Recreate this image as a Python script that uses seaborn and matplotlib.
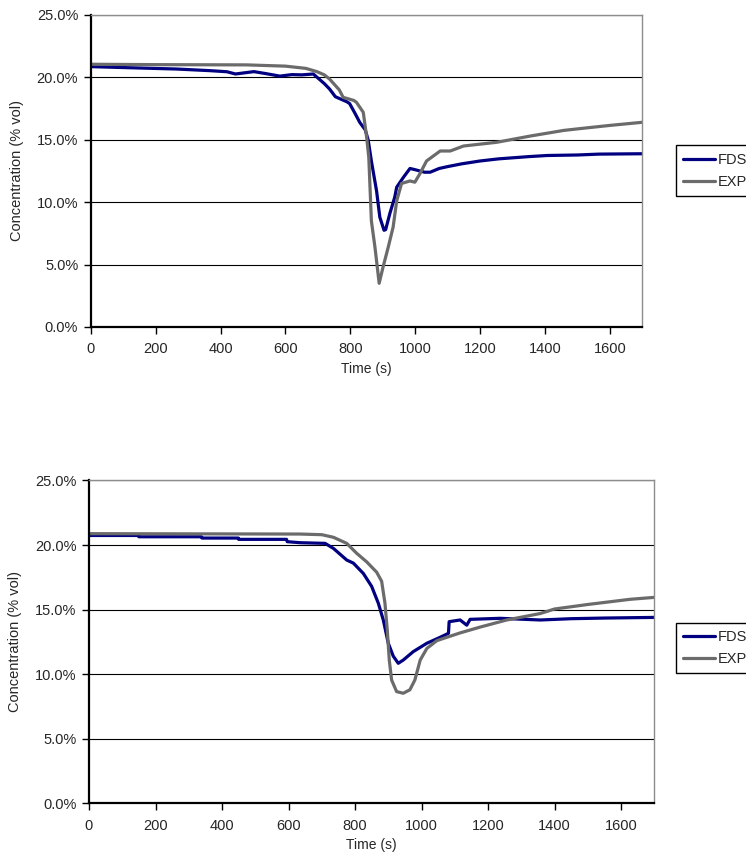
import pandas as pd
import matplotlib
matplotlib.use('Agg')
import matplotlib.pyplot as plt
import seaborn as sns
from matplotlib.ticker import FuncFormatter, MultipleLocator

sns.set_style('white')
plt.rcParams['font.family'] = ['Liberation Sans', 'DejaVu Sans']
plt.rcParams['font.size'] = 10.5

# upper panel
top_fds_t = [0, 80, 150, 263, 366, 420, 446, 470, 503, 540, 583, 620, 651, 686, 720, 736, 754, 767,
             789, 798, 817, 829, 846, 855, 865, 881, 891, 904, 909, 922, 937, 943, 964, 984, 1000,
             1029, 1046, 1074, 1100, 1143, 1200, 1257, 1350, 1407, 1500, 1566, 1700]
top_fds = [20.86, 20.80, 20.75, 20.67, 20.54, 20.45, 20.27, 20.35, 20.46, 20.30, 20.10, 20.22, 20.20,
           20.27, 19.50, 19.07, 18.45, 18.30, 18.05, 17.90, 17.00, 16.40, 15.80, 15.00, 13.30, 10.90,
           8.80, 7.75, 7.80, 9.10, 10.40, 11.20, 12.00, 12.70, 12.60, 12.40, 12.40, 12.70, 12.85,
           13.07, 13.30, 13.47, 13.65, 13.74, 13.78, 13.85, 13.88]
top_exp_t = [0, 200, 480, 600, 663, 697, 720, 736, 766, 778, 811, 819, 840, 850, 857, 860, 865, 876,
             889, 901, 917, 932, 943, 958, 984, 999, 1015, 1035, 1077, 1108, 1149, 1252, 1355, 1458,
             1510, 1600, 1700]
top_exp = [21.05, 21.02, 21.00, 20.90, 20.72, 20.46, 20.20, 19.87, 19.00, 18.40, 18.15, 18.00, 17.20,
           15.30, 13.60, 11.70, 8.50, 6.40, 3.50, 4.80, 6.40, 8.00, 10.10, 11.50, 11.70, 11.60, 12.30,
           13.30, 14.10, 14.10, 14.50, 14.80, 15.30, 15.75, 15.90, 16.15, 16.40]

# lower panel
bot_fds_t = [0, 148, 150, 338, 340, 449, 450, 594, 596, 635, 710, 735, 775, 795, 825, 850, 870, 885,
             900, 915, 930, 945, 975, 1016, 1056, 1081, 1083, 1116, 1136, 1146, 1236, 1357, 1450,
             1550, 1700]
bot_fds = [20.74, 20.74, 20.64, 20.64, 20.54, 20.54, 20.44, 20.44, 20.26, 20.18, 20.13, 19.74, 18.84,
           18.60, 17.80, 16.80, 15.50, 14.20, 12.40, 11.40, 10.85, 11.10, 11.75, 12.40, 12.86, 13.17,
           14.07, 14.20, 13.80, 14.25, 14.33, 14.20, 14.30, 14.35, 14.40]
bot_exp_t = [0, 635, 700, 735, 775, 805, 835, 865, 880, 890, 897, 903, 910, 925, 945, 965, 980, 996,
             1016, 1046, 1076, 1116, 1176, 1256, 1357, 1400, 1500, 1627, 1700]
bot_exp = [20.88, 20.85, 20.80, 20.60, 20.13, 19.36, 18.70, 17.90, 17.20, 15.50, 13.40, 11.10, 9.56,
           8.66, 8.53, 8.80, 9.56, 11.10, 12.00, 12.60, 12.86, 13.20, 13.65, 14.20, 14.70, 15.05,
           15.40, 15.80, 15.95]

palette = {'FDS': '#000080', 'EXP': '#6b6b6b'}


def make_df(fds_t, fds, exp_t, exp):
    df1 = pd.DataFrame({'time': fds_t, 'conc': fds, 'series': 'FDS'})
    df2 = pd.DataFrame({'time': exp_t, 'conc': exp, 'series': 'EXP'})
    return pd.concat([df1, df2], ignore_index=True)


fig = plt.figure(figsize=(7.46, 8.65), dpi=100)
ax_top = fig.add_axes([0.1216, 0.622, 0.7394, 0.3607])
ax_bot = fig.add_axes([0.1193, 0.0711, 0.7578, 0.3735])

panels = [
    (ax_top, make_df(top_fds_t, top_fds, top_exp_t, top_exp), 0.832),
    (ax_bot, make_df(bot_fds_t, bot_fds, bot_exp_t, bot_exp), 0.280),
]

for ax, df, leg_y in panels:
    sns.lineplot(data=df, x='time', y='conc', hue='series', hue_order=['FDS', 'EXP'],
                 palette=palette, estimator=None, sort=True, linewidth=2.3, ax=ax, legend=False)
    ax.set_xlim(0, 1700)
    ax.set_ylim(0, 25)
    ax.xaxis.set_major_locator(MultipleLocator(200))
    ax.yaxis.set_major_locator(MultipleLocator(5))
    ax.yaxis.set_major_formatter(FuncFormatter(lambda v, p: '{:.1f}%'.format(v)))
    ax.grid(axis='y', color='black', linewidth=0.8)
    ax.grid(axis='x', visible=False)
    ax.set_axisbelow(True)
    for s in ['top', 'right']:
        ax.spines[s].set_color('#8c8c8c')
        ax.spines[s].set_linewidth(1.0)
    for s in ['left', 'bottom']:
        ax.spines[s].set_color('black')
        ax.spines[s].set_linewidth(1.6)
    ax.tick_params(axis='both', direction='out', length=5, width=1, color='black',
                   labelsize=10.5, bottom=True, left=True)
    ax.tick_params(axis='x', pad=6)
    ax.tick_params(axis='y', pad=4)
    ax.set_xlabel('Time (s)', fontsize=10, labelpad=4)
    ax.set_ylabel('Concentration (% vol)', fontsize=10.5, labelpad=9)

    lines = ax.get_lines()[:2]
    leg = fig.legend(lines, ['FDS', 'EXP'], loc='upper left', bbox_to_anchor=(0.906, leg_y),
                     bbox_transform=fig.transFigure, frameon=True, fancybox=False,
                     framealpha=1, edgecolor='black', fontsize=10.5, handlelength=2.2,
                     handletextpad=0.2, borderpad=0.5, labelspacing=0.55, borderaxespad=0)
    leg.get_frame().set_linewidth(1.0)

fig.savefig('out.png', dpi=100)
